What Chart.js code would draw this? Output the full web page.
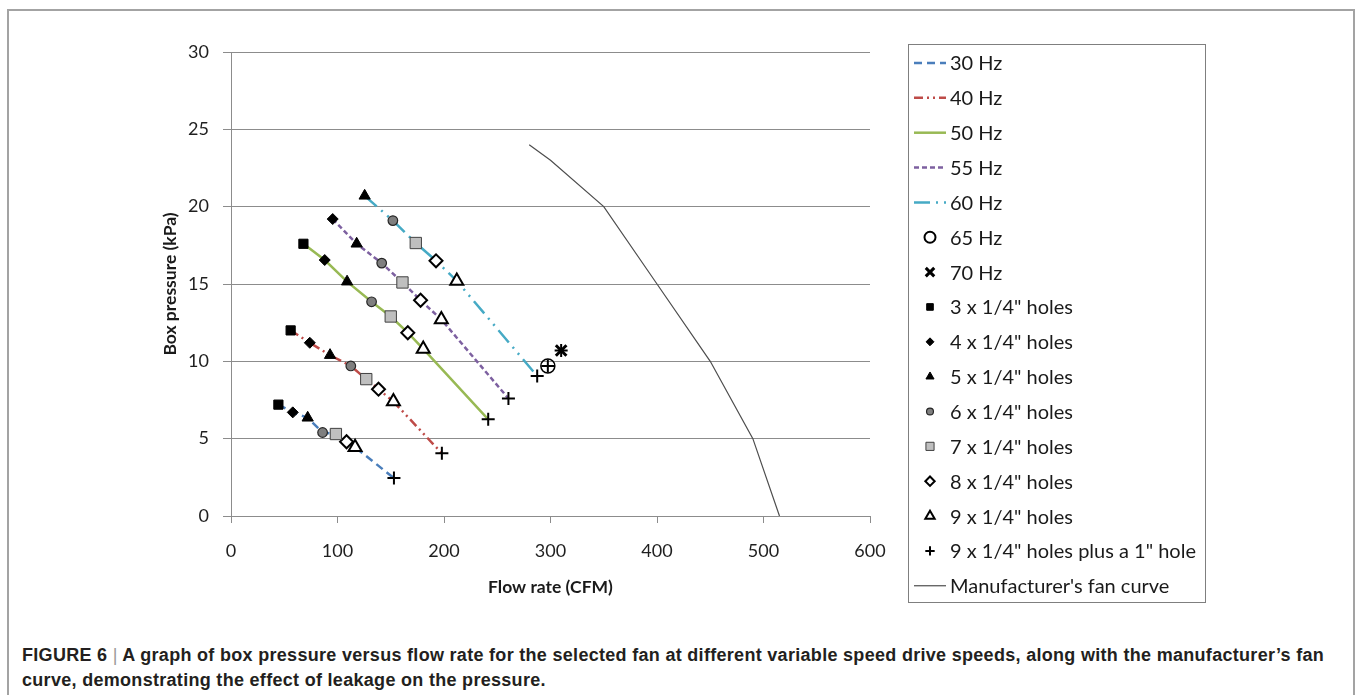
<!DOCTYPE html>
<html>
<head>
<meta charset="utf-8">
<script src="https://cdn.jsdelivr.net/npm/chart.js@4.4.1/dist/chart.umd.min.js"></script>
<style>
    html, body { margin: 0; padding: 0; background: #fff; width: 1356px; height: 695px; overflow: hidden; }
    #frame { position: absolute; left: 7px; top: 9px; width: 1348px; height: 720px; box-sizing: border-box;
             border: 2px solid #a3a3a3; border-bottom: none; }
    #wrap { position: absolute; left: 0; top: 0; width: 1356px; height: 640px; }
    #caption { position: absolute; left: 22px; top: 643px; font-family: "Liberation Sans", Arial, sans-serif;
               font-weight: bold; font-size: 18px; letter-spacing: 0.3px; line-height: 25px; color: #231f20; white-space: nowrap; }
    #caption .sep { color: #9a9a9a; font-weight: normal; }
</style>
</head>
<body>
<div id="frame"></div>
<div id="wrap"><canvas id="myChart" width="1356" height="640"></canvas></div>
<div id="caption">FIGURE 6 <span class="sep">|</span> A graph of box pressure versus flow rate for the selected fan at different variable speed drive speeds, along with the manufacturer’s fan<br>curve, demonstrating the effect of leakage on the pressure.</div>
<script>
// series names
const freqLabels = ["30 Hz", "40 Hz", "50 Hz", "55 Hz", "60 Hz"];
const holeLabels = ['3 x 1/4" holes', '4 x 1/4" holes', '5 x 1/4" holes', '6 x 1/4" holes',
    '7 x 1/4" holes', '8 x 1/4" holes', '9 x 1/4" holes', '9 x 1/4" holes plus a 1" hole'];

// flow (CFM) and pressure (kPa), one entry per hole configuration (null = not measured)
const flow30 = [44.5, 58, 72, 86, 98.5, 108.5, 116.5, 153];
const pres30 = [7.2, 6.7, 6.35, 5.4, 5.3, 4.8, 4.45, 2.45];
const flow40 = [56, 74, 93, 112.5, 127, 138.5, 152.5, 198];
const pres40 = [12.0, 11.2, 10.4, 9.7, 8.85, 8.2, 7.4, 4.05];
const flow50 = [68, 88, 109, 132, 150, 166, 180.5, 241.5];
const pres50 = [17.6, 16.55, 15.15, 13.85, 12.9, 11.85, 10.8, 6.25];
const flow55 = [null, 95.5, 118, 141.5, 161, 178, 197.5, 260.5];
const pres55 = [null, 19.2, 17.6, 16.35, 15.1, 13.95, 12.7, 7.6];
const flow60 = [null, null, 125.5, 152, 173.5, 192.5, 212, 287.5];
const pres60 = [null, null, 20.7, 19.1, 17.65, 16.5, 15.2, 9.05];
const flow65 = [null, null, null, null, null, null, null, 297.5];
const pres65 = [null, null, null, null, null, null, null, 9.7];
const flow70 = [null, null, null, null, null, null, null, 310];
const pres70 = [null, null, null, null, null, null, null, 10.7];

// manufacturer's fan curve
const fanFlow = [280, 300, 350, 400, 450, 490, 515];
const fanPres = [24, 23, 20, 15, 10, 5, 0];

const lineSeries = [[flow30, pres30], [flow40, pres40], [flow50, pres50], [flow55, pres55], [flow60, pres60]];
const allSeries = lineSeries.concat([[flow65, pres65], [flow70, pres70]]);

const lineStyles = [
    { color: "#4a7ebb", dash: [8, 5] },
    { color: "#be4b48", dash: [9, 4, 2, 4, 2, 4] },
    { color: "#98b954", dash: [] },
    { color: "#7d60a0", dash: [5, 3] },
    { color: "#46aac5", dash: [16, 6, 2, 6, 2, 6] }
];
const holeStyles = [
    { style: "rect", r: 6.5, fill: "#000", stroke: "#000", w: 1 },
    { style: "rectRot", r: 5.5, fill: "#000", stroke: "#000", w: 1 },
    { style: "triangle", r: 6.5, fill: "#000", stroke: "#000", w: 1 },
    { style: "circle", r: 4.8, fill: "#7f7f7f", stroke: "#262626", w: 1.2 },
    { style: "rect", r: 8, fill: "#bfbfbf", stroke: "#404040", w: 1 },
    { style: "rectRot", r: 6.5, fill: "#fff", stroke: "#000", w: 2 },
    { style: "triangle", r: 7.5, fill: "#fff", stroke: "#000", w: 2 },
    { style: "cross", r: 6.5, fill: "#000", stroke: "#000", w: 2 }
];

function toPoints(flow, pres) {
    let pts = [];
    flow.forEach((x, i) => {
        if (x !== null) pts.push({ x: x, y: pres[i] });
    });
    return pts;
}

let datasets = [];

lineSeries.forEach((s, i) => {
    datasets.push({
        label: freqLabels[i],
        data: toPoints(s[0], s[1]),
        showLine: true,
        borderColor: lineStyles[i].color,
        borderDash: lineStyles[i].dash,
        borderWidth: 2.5,
        pointRadius: 0,
        order: 2
    });
});

datasets.push({
    label: "65 Hz",
    data: toPoints(flow65, pres65),
    pointStyle: "circle",
    pointRadius: 7,
    borderWidth: 1.5,
    borderColor: "#000",
    backgroundColor: "rgba(0,0,0,0)",
    legendR: 5.5,
    legendW: 2,
    order: 1
});
datasets.push({
    label: "70 Hz",
    data: toPoints(flow70, pres70),
    pointStyle: "crossRot",
    pointRadius: 7.5,
    borderWidth: 3,
    borderColor: "#000",
    backgroundColor: "#000",
    legendR: 6,
    legendW: 3,
    order: 1
});

holeLabels.forEach((label, h) => {
    let pts = [];
    allSeries.forEach(s => {
        if (s[0][h] !== null) pts.push({ x: s[0][h], y: s[1][h] });
    });
    datasets.push({
        label: label,
        data: pts,
        pointStyle: holeStyles[h].style,
        pointRadius: holeStyles[h].r,
        borderWidth: holeStyles[h].w,
        borderColor: holeStyles[h].stroke,
        backgroundColor: holeStyles[h].fill,
        legendR: holeStyles[h].r * 0.72,
        order: 1
    });
});

datasets.push({
    label: "Manufacturer's fan curve",
    data: fanFlow.map((x, i) => ({ x: x, y: fanPres[i] })),
    showLine: true,
    borderColor: "#4d4d4d",
    borderWidth: 1.2,
    pointRadius: 0,
    order: 2
});

// legend drawn in a box like the spreadsheet one
const legendBox = {
    id: "legendBox",
    afterDraw(chart) {
        const ctx = chart.ctx;
        ctx.save();
        ctx.strokeStyle = "#7f7f7f";
        ctx.lineWidth = 1;
        ctx.setLineDash([]);
        ctx.strokeRect(908.5, 44.5, 297, 558);
        ctx.font = "20px Lato";
        ctx.textBaseline = "middle";
        ctx.fillStyle = "#1a1a1a";
        chart.data.datasets.forEach((ds, i) => {
            const y = 63 + i * 34.85;
            if (ds.showLine) {
                ctx.save();
                ctx.strokeStyle = ds.borderColor;
                ctx.lineWidth = ds.borderWidth;
                ctx.setLineDash(ds.borderDash || []);
                ctx.beginPath();
                ctx.moveTo(914, y);
                ctx.lineTo(946, y);
                ctx.stroke();
                ctx.restore();
            } else {
                const bw = ds.legendW || ds.borderWidth;
                ctx.save();
                ctx.fillStyle = ds.backgroundColor;
                ctx.strokeStyle = ds.borderColor;
                ctx.lineWidth = bw;
                Chart.helpers.drawPoint(ctx, {
                    pointStyle: ds.pointStyle,
                    radius: ds.legendR,
                    rotation: 0,
                    borderWidth: bw
                }, 930, y);
                ctx.restore();
            }
            ctx.fillText(ds.label, 950, y + 1);
        });
        ctx.restore();
    }
};

const gridColor = "#8c8c8c";

document.addEventListener("DOMContentLoaded", () => {
    let ctx = document.querySelector("#myChart").getContext("2d");
    new Chart(ctx, {
        type: "scatter",
        data: { datasets: datasets },
        plugins: [legendBox],
        options: {
            responsive: false,
            animation: false,
            devicePixelRatio: 1,
            layout: { padding: { left: 160, right: 486, top: 52, bottom: 42 } },
            elements: { line: { tension: 0 } },
            plugins: {
                legend: { display: false },
                tooltip: { enabled: false }
            },
            scales: {
                x: {
                    type: "linear",
                    min: 0,
                    max: 600,
                    ticks: { stepSize: 100, color: "#1f1f1f", font: { family: "Lato", size: 18 }, padding: 17 },
                    grid: { drawOnChartArea: false, color: gridColor, tickLength: 7 },
                    border: { color: gridColor },
                    title: {
                        display: true,
                        text: "Flow rate (CFM)",
                        color: "#1a1a1a",
                        font: { family: "Lato", size: 17.5, weight: "bold" },
                        padding: 0
                    },
                    afterFit: s => { s.height = 82; }
                },
                y: {
                    min: 0,
                    max: 30,
                    ticks: { stepSize: 5, color: "#1f1f1f", font: { family: "Lato", size: 18 }, padding: 14 },
                    grid: { color: gridColor, tickLength: 8 },
                    border: { color: gridColor },
                    title: {
                        display: true,
                        text: "Box pressure (kPa)",
                        color: "#1a1a1a",
                        font: { family: "Lato", size: 17.5, weight: "bold" },
                        padding: 0
                    },
                    afterFit: s => { s.width = 71; }
                }
            }
        }
    });
});
</script>
</body>
</html>
